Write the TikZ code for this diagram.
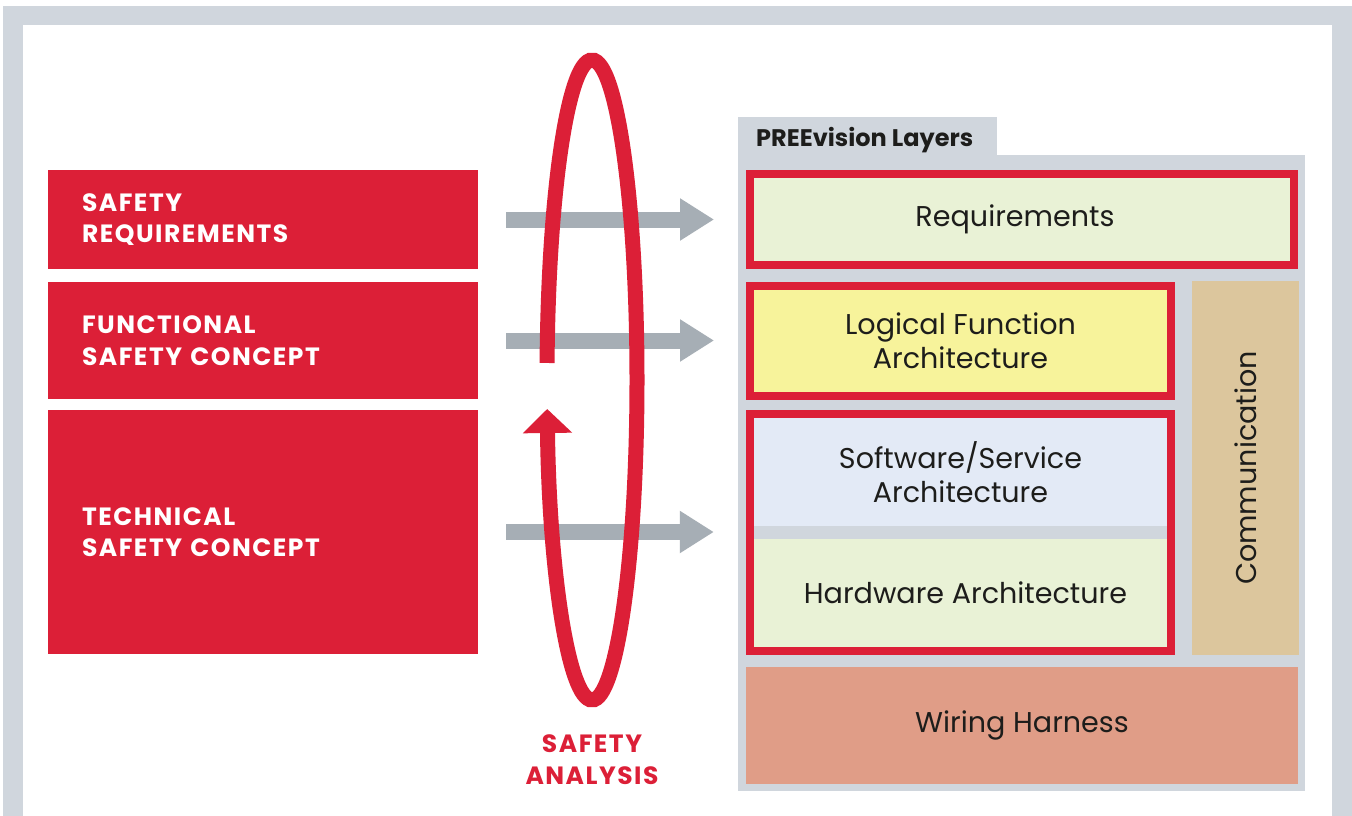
\documentclass[tikz,border=0pt]{standalone}
\usepackage{fontspec}
\setmainfont{Poppins}
\newfontfamily\trackedfont[LetterSpace=6]{Poppins}
\usetikzlibrary{arrows.meta,fit}

\definecolor{vred}{HTML}{DC1F37}
\definecolor{vframe}{HTML}{D0D6DD}
\definecolor{vgray}{HTML}{A6AEB5}
\definecolor{vtext}{HTML}{1D1D1B}
\definecolor{reqgreen}{HTML}{E9F2D6}
\definecolor{logyellow}{HTML}{F7F39B}
\definecolor{swblue}{HTML}{E3EAF6}
\definecolor{comtan}{HTML}{DCC69D}
\definecolor{wiresalmon}{HTML}{E09D87}

\tikzset{
  concept/.style={fill=vred,text=white,font=\trackedfont\bfseries\fontsize{25}{31.5}\selectfont,
    align=left,text width=362pt,inner xsep=34pt},
  layer/.style={text=vtext,font=\fontsize{28.6}{34}\selectfont,align=center,inner sep=0pt},
  redframe/.style={draw=vred,line width=8pt},
  flow/.style={draw=vgray,line width=16pt,-{Triangle[width=40pt,length=34pt]},
    shorten <=28pt,shorten >=32pt},
}

\begin{document}
\begin{tikzpicture}[x=1pt,y=1pt]
			\useasboundingbox (0,0) rectangle (1352,-816);
			% frame
			\fill[vframe] (3,-6) rectangle (1352,-816);
			\fill[white] (23,-25) rectangle (1332,-816);
			
			% safety concepts
			\node[concept,minimum height=99pt] (SafetyReq) at (263,-219.5) {SAFETY\\REQUIREMENTS};
			\node[concept,minimum height=117pt] (FuncConcept) at (263,-340.5) {FUNCTIONAL\\SAFETY CONCEPT};
			\node[concept,minimum height=244pt] (TechConcept) at (263,-532) {TECHNICAL\\SAFETY CONCEPT};
			
			% PREEvision layers
			\fill[vframe] (738,-117) rectangle (997,-156);
			\fill[vframe] (738,-155) rectangle (1305,-791);
			\node[anchor=base west,text=vtext,font=\bfseries\fontsize{24}{28}\selectfont,inner sep=0pt] (LayersTitle) at (756,-146) {PREEvision Layers};
			
			\node[layer,redframe,fill=reqgreen,minimum width=544pt,minimum height=91pt] (Requirements) at (1022,-219.5) {Requirements\hspace*{14pt}};
			\node[layer,redframe,fill=logyellow,minimum width=421pt,minimum height=110pt] (LogicalFunc) at (960.5,-341) {Logical Function\\Architecture};
			\node[layer,fill=swblue,minimum width=413pt,minimum height=108pt] (SoftwareArch) at (960.5,-472) {Software/Service\\Architecture};
			\node[layer,fill=reqgreen,minimum width=413pt,minimum height=108pt] (HardwareArch) at (960.5,-593) {\hspace*{10pt}Hardware Architecture};
			\node[redframe,fit=(SoftwareArch)(HardwareArch),inner sep=4pt] (SwHwFrame) {};
			\node[layer,fill=comtan,minimum width=374pt,minimum height=107pt,rotate=90] (Communication) at (1245.5,-468) {Communication};
			\node[layer,fill=wiresalmon,minimum width=552pt,minimum height=117pt] (WiringHarness) at (1022,-725.5) {Wiring Harness};
			
			\draw[flow] (SafetyReq.east) to (SafetyReq.east -| Requirements.west);
			\draw[flow] (FuncConcept.east) to (FuncConcept.east -| LogicalFunc.west);
			\draw[flow] (TechConcept.east) to (TechConcept.east -| SwHwFrame.west);
			
			% safety analysis loop
			\coordinate (LoopCenter) at (592,-380);
			\draw[vred,line width=15pt,-{Triangle[width=48pt,length=24pt]}] (LoopCenter) ++(176.95:45 and 320)
			  arc[start angle=176.95,end angle=-174.8,x radius=45,y radius=320];
			\node[text=vred,font=\trackedfont\bfseries\fontsize{25}{32}\selectfont,align=center] (SafetyAnalysis) at (592,-759.5) {SAFETY\\ANALYSIS};
			
\end{tikzpicture}
\end{document}
